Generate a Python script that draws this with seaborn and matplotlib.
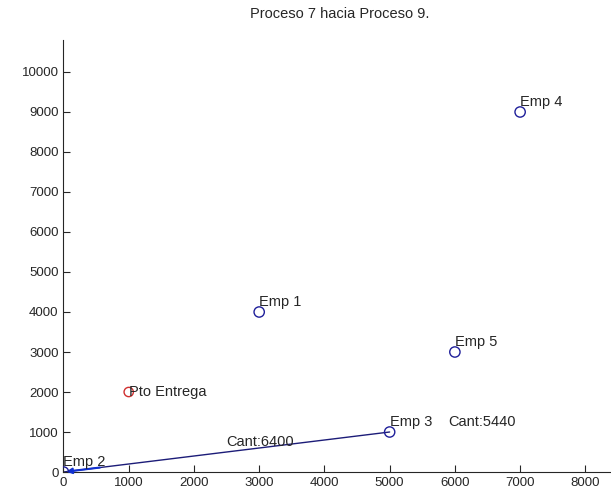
import matplotlib
matplotlib.use("Agg")
import matplotlib.pyplot as plt
import seaborn as sns
import pandas as pd

# empresas (puntos azules)
emp_names = ["Emp 1", "Emp 2", "Emp 3", "Emp 4", "Emp 5"]
emp_x = [3000, 0, 5000, 7000, 6000]
emp_y = [4000, 0, 1000, 9000, 3000]

# punto de entrega (rojo)
entrega_name = "Pto Entrega"
entrega_x = [1000]
entrega_y = [2000]

# ruta y cantidades
ruta_x = [0, 5000]
ruta_y = [0, 1000]
cant_labels = ["Cant:6400", "Cant:5440"]
cant_x = [2500, 5900]
cant_y = [750, 1250]

titulo = "Proceso 7 hacia Proceso 9."

sns.set_style("ticks", {"xtick.direction": "in", "ytick.direction": "in"})
plt.rcParams['font.family'] = ['Liberation Sans', 'DejaVu Sans']
plt.rcParams['xtick.direction'] = 'in'
plt.rcParams['ytick.direction'] = 'in'

fig = plt.figure(figsize=(6.11, 4.98), dpi=100)
ax = fig.add_axes([0.1039, 0.0522, 0.9043, 0.8675])

df_emp = pd.DataFrame({"x": emp_x, "y": emp_y, "name": emp_names})
df_ent = pd.DataFrame({"x": entrega_x, "y": entrega_y})

# ruta
sns.lineplot(x=ruta_x, y=ruta_y, ax=ax, color="#1c1c78", linewidth=1.0, sort=False)
ax.annotate("", xy=(ruta_x[0], ruta_y[0]), xytext=(ruta_x[0] + 600, ruta_y[0] + 120),
            arrowprops=dict(arrowstyle="-|>", color="#1030d0", lw=1.5, mutation_scale=8))

sns.scatterplot(data=df_emp, x="x", y="y", ax=ax, marker="o", s=55,
                facecolor="none", edgecolor="#1f1f9a", linewidth=1.0, zorder=3)
sns.scatterplot(data=df_ent, x="x", y="y", ax=ax, marker="o", s=45,
                facecolor="none", edgecolor="#d03030", linewidth=1.0, zorder=3)

fs = 10.5
for n, x, y in zip(emp_names, emp_x, emp_y):
    ax.text(x, y + 250, n, fontsize=fs, ha="left", va="center")
ax.text(entrega_x[0], entrega_y[0], entrega_name, fontsize=fs, ha="left", va="center")
for c, x, y in zip(cant_labels, cant_x, cant_y):
    ax.text(x, y, c, fontsize=fs, ha="left", va="center")

ax.set_xlim(0, 8470)
ax.set_ylim(0, 10800)
ax.set_xticks(range(0, 9000, 1000))
ax.set_yticks(range(0, 11000, 1000))
ax.set_xlabel("")
ax.set_ylabel("")
sns.despine(ax=ax, top=True, right=True)
ax.tick_params(axis="both", which="both", direction="in", length=5, labelsize=9.5, width=0.8)
ax.spines["left"].set_linewidth(0.8)
ax.spines["bottom"].set_linewidth(0.8)
ax.set_title(titulo, fontsize=10.5, pad=16)

fig.savefig("out.png", dpi=100)
